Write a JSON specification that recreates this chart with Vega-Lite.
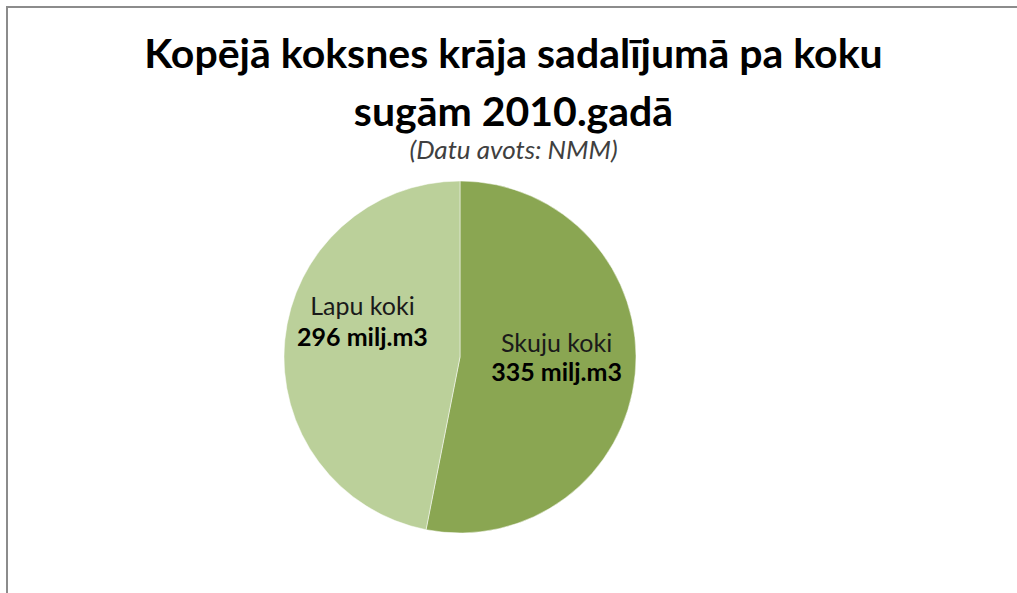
{
  "$schema": "https://vega.github.io/schema/vega-lite/v6.json",
  "width": 1013,
  "height": 589,
  "padding": {"left": 7, "top": 7, "right": -3, "bottom": -3},
  "autosize": {"type": "none"},
  "background": "white",
  "view": {"stroke": "#8c8c8c", "strokeWidth": 2, "fill": null},
  "title": {
    "text": ["Kopējā koksnes krāja sadalījumā pa koku", "sugām 2010.gadā"],
    "subtitle": "(Datu avots: NMM)",
    "anchor": "middle",
    "frame": "group",
    "offset": -158,
    "font": "Lato",
    "fontWeight": "bold",
    "fontSize": 41,
    "lineHeight": 58,
    "color": "#000000",
    "subtitleFont": "Lato",
    "subtitleFontStyle": "italic",
    "subtitleFontSize": 26,
    "subtitleColor": "#404040",
    "subtitlePadding": 3
  },
  "data": {
    "values": [
      {"kategorija": "Skuju koki", "milj_m3": 335, "teksts": "335 milj.m3"},
      {"kategorija": "Lapu koki", "milj_m3": 296, "teksts": "296 milj.m3"}
    ]
  },
  "encoding": {
    "theta": {"field": "milj_m3", "type": "quantitative", "stack": true},
    "order": {"field": "kategorija", "sort": "descending"},
    "color": {"field": "kategorija", "type": "nominal", "scale": {"domain": ["Skuju koki", "Lapu koki"], "range": ["#8aa652", "#bbd09a"]}, "legend": null}
  },
  "layer": [
    {
      "mark": {"type": "arc", "outerRadius": 176, "xOffset": -53.5, "yOffset": 55.5, "stroke": "#ffffff", "strokeWidth": 0.5}
    },
    {
      "mark": {"type": "text", "radius": 97, "xOffset": -53.5, "yOffset": 55.5, "dy": -22, "font": "Lato", "fontSize": 25, "baseline": "middle"},
      "encoding": {"text": {"condition": {"test": "datum.kategorija === 'Skuju koki'", "field": "kategorija"}, "value": ""}, "color": {"value": "#1a1a1a"}, "detail": {"field": "kategorija"}}
    },
    {
      "mark": {"type": "text", "radius": 97, "xOffset": -53.5, "yOffset": 55.5, "dy": 7, "font": "Lato", "fontSize": 25, "fontWeight": "bold", "baseline": "middle"},
      "encoding": {"text": {"condition": {"test": "datum.kategorija === 'Skuju koki'", "field": "teksts"}, "value": ""}, "color": {"value": "#000000"}, "detail": {"field": "kategorija"}}
    },
    {
      "mark": {"type": "text", "radius": 98, "xOffset": -53.5, "yOffset": 55.5, "dy": -41, "font": "Lato", "fontSize": 25, "baseline": "middle"},
      "encoding": {"text": {"condition": {"test": "datum.kategorija === 'Lapu koki'", "field": "kategorija"}, "value": ""}, "color": {"value": "#1a1a1a"}, "detail": {"field": "kategorija"}}
    },
    {
      "mark": {"type": "text", "radius": 98, "xOffset": -53.5, "yOffset": 55.5, "dy": -10, "font": "Lato", "fontSize": 25, "fontWeight": "bold", "baseline": "middle"},
      "encoding": {"text": {"condition": {"test": "datum.kategorija === 'Lapu koki'", "field": "teksts"}, "value": ""}, "color": {"value": "#000000"}, "detail": {"field": "kategorija"}}
    }
  ]
}
